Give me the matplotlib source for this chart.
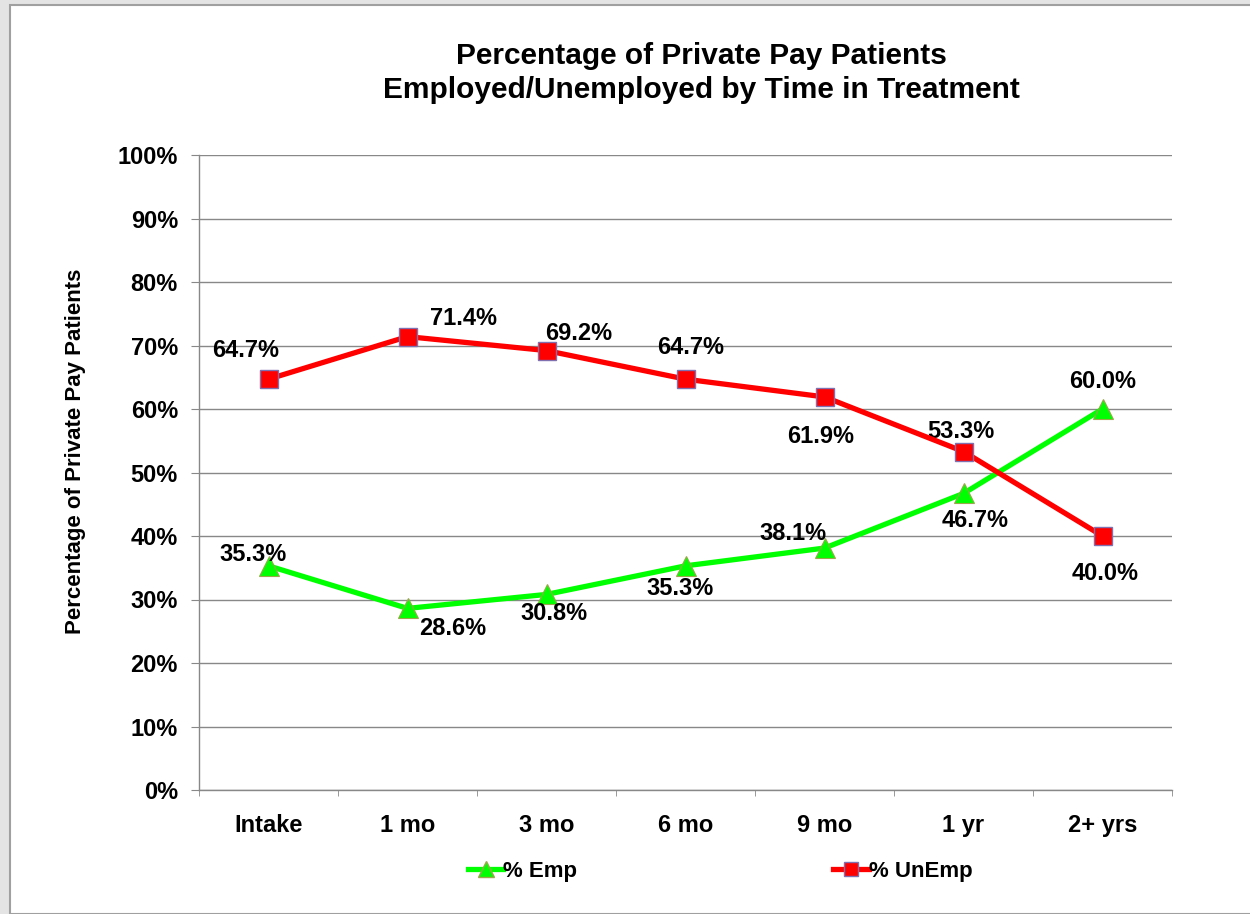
import matplotlib.pyplot as plt
from matplotlib.lines import Line2D
from matplotlib.patches import Rectangle

plt.rcParams["font.family"] = ["Liberation Sans", "DejaVu Sans"]
plt.rcParams["font.weight"] = "bold"

periods = ["Intake", "1 mo", "3 mo", "6 mo", "9 mo", "1 yr", "2+ yrs"]
pct_emp = [35.3, 28.6, 30.8, 35.3, 38.1, 46.7, 60.0]
pct_unemp = [64.7, 71.4, 69.2, 64.7, 61.9, 53.3, 40.0]

# label offsets in pixels, hand placed to match the original layout
emp_offsets = [(-15, 11), (45, -20), (7, -19), (-5, -23), (-32, 15), (12, -27), (0, 28)]
unemp_offsets = [(-23, 29), (56, 18), (32, 17), (5, 32), (-4, -40), (-3, 20), (3, -37)]

fig = plt.figure(figsize=(12.5, 9.14), dpi=100)
fig.patch.set_facecolor("#e4e4e4")
fig.patches.append(
    Rectangle(
        (10 / 1250, 0), 1.0, 1 - 5 / 914,
        transform=fig.transFigure,
        facecolor="white",
        edgecolor="#a0a0a0",
        linewidth=1.5,
        zorder=-5,
    )
)

ax = fig.add_axes([199 / 1250, 1 - 790 / 914, 973 / 1250, 635 / 914])
ax.set_facecolor("none")
ax.set_zorder(2)

x = list(range(len(periods)))

ax.plot(
    x, pct_emp,
    color="#00ff00", linewidth=3.8,
    marker="^", markersize=15,
    markerfacecolor="#00ff00", markeredgecolor="#9aa84a", markeredgewidth=0.8,
    zorder=3,
)
ax.plot(
    x, pct_unemp,
    color="#ff0000", linewidth=3.8,
    marker="s", markersize=13,
    markerfacecolor="#ff0000", markeredgecolor="#8070b0", markeredgewidth=1.0,
    zorder=4,
)

for xi, val, off in zip(x, pct_emp, emp_offsets):
    ax.annotate(
        f"{val:.1f}%", (xi, val),
        xytext=off, textcoords="offset pixels",
        ha="center", va="center",
        fontsize=17, fontweight="bold",
    )

for xi, val, off in zip(x, pct_unemp, unemp_offsets):
    ax.annotate(
        f"{val:.1f}%", (xi, val),
        xytext=off, textcoords="offset pixels",
        ha="center", va="center",
        fontsize=17, fontweight="bold",
    )

ax.set_xlim(-0.5, len(periods) - 0.5)
ax.set_ylim(0, 100)

ax.set_yticks(range(0, 101, 10))
ax.set_yticklabels([f"{v}%" for v in range(0, 101, 10)], fontsize=17, fontweight="bold")
ax.set_xticks(x)
ax.set_xticklabels(periods, fontsize=17, fontweight="bold")
ax.set_xticks([i - 0.5 for i in range(len(periods) + 1)], minor=True)

ax.tick_params(axis="x", which="major", length=0, pad=17)
ax.tick_params(axis="x", which="minor", length=4.3, color="#888888", direction="out")
ax.tick_params(axis="y", length=5.8, color="#888888", pad=9.4)

ax.grid(axis="y", color="#888888", linewidth=1.0)
ax.set_axisbelow(True)

for side in ("top", "right"):
    ax.spines[side].set_visible(False)
for side in ("left", "bottom"):
    ax.spines[side].set_color("#888888")
    ax.spines[side].set_linewidth(1.0)

fig.text(
    701 / 1250, 1 - 73 / 914,
    "Percentage of Private Pay Patients\nEmployed/Unemployed by Time in Treatment",
    ha="center", va="center",
    fontsize=21.5, fontweight="bold", linespacing=1.25,
)
fig.text(
    76 / 1250, 1 - 451 / 914,
    "Percentage of Private Pay Patients",
    rotation=90, ha="center", va="center",
    fontsize=16, fontweight="bold",
)

handles = [
    Line2D([], [], color="#00ff00", linewidth=3.8, marker="^", markersize=12,
           markerfacecolor="#00ff00", markeredgecolor="#9aa84a"),
    Line2D([], [], color="#ff0000", linewidth=3.8, marker="s", markersize=10,
           markerfacecolor="#ff0000", markeredgecolor="#8070b0"),
]
fig.legend(
    handles, ["% Emp", "% UnEmp"],
    loc="center", bbox_to_anchor=(720 / 1250, 1 - 871 / 914),
    ncol=2, frameon=False,
    handlelength=1.6, handletextpad=0.0, columnspacing=11.5,
    prop={"size": 16, "weight": "bold"},
)

fig.savefig("out.png", dpi=100, facecolor=fig.get_facecolor())
